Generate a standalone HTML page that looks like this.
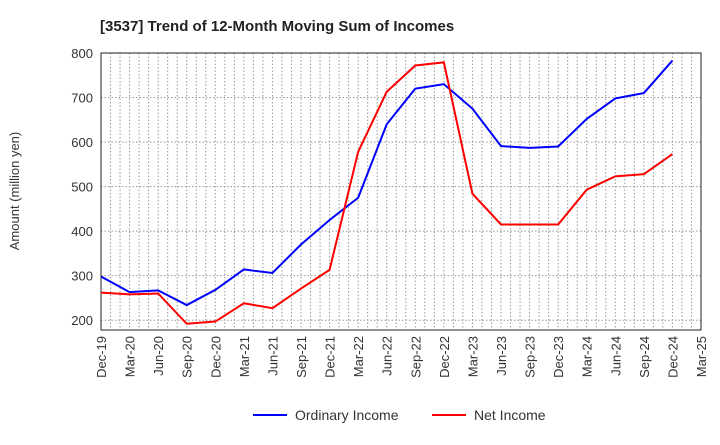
<!DOCTYPE html>
<html><head><meta charset="utf-8"><style>
body{margin:0;background:#fff;font-family:"Liberation Sans",sans-serif}
</style></head><body>
<svg id="c" width="720" height="440" xmlns="http://www.w3.org/2000/svg" font-family="Liberation Sans, sans-serif">
<text x="100" y="31" font-size="15" font-weight="bold" fill="#222">[3537]  Trend of 12-Month Moving Sum of Incomes</text>
<text transform="translate(19,191) rotate(-90)" text-anchor="middle" font-size="13" fill="#333">Amount (million yen)</text>
<g id="grid"></g><g id="axes"></g><g id="series"></g>
<g>
<line x1="253" y1="415" x2="287" y2="415" stroke="#0000ff" stroke-width="2"/>
<text x="295" y="420" font-size="14" fill="#333">Ordinary Income</text>
<line x1="432" y1="415" x2="466" y2="415" stroke="#ff0000" stroke-width="2"/>
<text x="474" y="420" font-size="14" fill="#333">Net Income</text>
</g>
</svg>
<script>
const categories=["Dec-19","Mar-20","Jun-20","Sep-20","Dec-20","Mar-21","Jun-21","Sep-21","Dec-21","Mar-22","Jun-22","Sep-22","Dec-22","Mar-23","Jun-23","Sep-23","Dec-23","Mar-24","Jun-24","Sep-24","Dec-24","Mar-25"];
const ordinaryIncome=[298,263,267,234,268,314,306,370,425,475,640,720,730,675,591,587,590,652,698,710,783];
const netIncome=[262,258,260,192,197,238,227,271,313,578,713,772,779,484,415,415,415,493,523,528,573];
const yTicks=[200,300,400,500,600,700,800];
const NS="http://www.w3.org/2000/svg";
const L=101,R=701,T=53,B=330,YMIN=178,YMAX=800;
const x=i=>L+i*(R-L)/(categories.length-1);
const y=v=>B-(v-YMIN)/(YMAX-YMIN)*(B-T);
function mk(tag,at,parent){const e=document.createElementNS(NS,tag);for(const k in at)e.setAttribute(k,at[k]);document.getElementById(parent).appendChild(e);return e;}
for(let m=1;m<(categories.length-1)*3;m++){const xx=L+m*(R-L)/((categories.length-1)*3);
const g=mk('line',{x1:xx,x2:xx,y1:T,y2:B,stroke:'#999','stroke-dasharray':'1.5,2','stroke-width':1},'grid');

}
yTicks.forEach(v=>{const g=mk('line',{x1:L,x2:R,y1:y(v),y2:y(v),stroke:'#999','stroke-dasharray':'1.5,2'},'grid');


const t=mk('text',{x:L-8,y:y(v)+5,'text-anchor':'end','font-size':13,fill:'#333'},'axes');t.textContent=v;

});
const fr=mk('rect',{x:L,y:T,width:R-L,height:B-T,fill:'none',stroke:'#222','stroke-width':1},'axes');


categories.forEach((c,i)=>{const t=mk('text',{transform:`translate(${x(i)+5},${B+6}) rotate(-90)`,'text-anchor':'end','font-size':13,fill:'#333'},'axes');t.textContent=c;

});
function line(d,col,name){const p=mk('polyline',{points:d.map((v,i)=>x(i)+','+y(v)).join(' '),fill:'none',stroke:col,'stroke-width':2},'series');

}
line(ordinaryIncome,'#0000ff','ordinary-income-line');
line(netIncome,'#ff0000','net-income-line');
</script>
</body></html>
